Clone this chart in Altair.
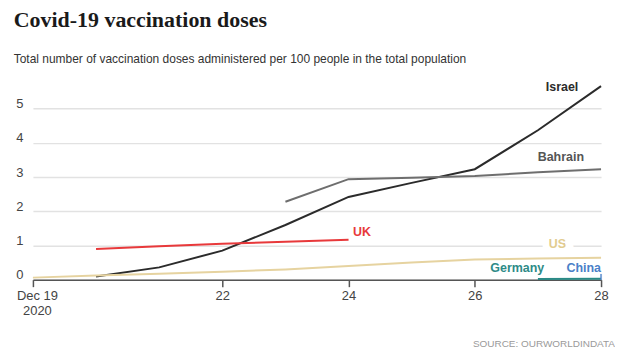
import altair as alt
import pandas as pd

days = [19, 20, 21, 22, 23, 24, 25, 26, 27, 28]
israel = [None, 0.09, 0.36, 0.85, 1.60, 2.42, 2.83, 3.23, 4.37, 5.66]
bahrain = [None, None, None, None, 2.28, 2.94, 2.98, 3.03, 3.14, 3.23]
uk = [None, 0.90, 0.98, 1.05, 1.11, 1.17, None, None, None, None]
us = [0.06, 0.12, 0.17, 0.23, 0.30, 0.40, 0.50, 0.59, 0.62, 0.64]
germany = [None, None, None, None, None, None, None, None, 0.02, 0.03]
china_day = [28]
china_val = [0.08]

series_names = ["Israel", "Bahrain", "UK", "US", "Germany", "China"]
series_colors = ["#2b2b2b", "#6e6e6e", "#e8393b", "#e6d3a0", "#2a8a86", "#4a80c9"]
label_colors = ["#2b2b2b", "#555555", "#e8393b", "#e2cc90", "#2e8b87", "#4a7fc8"]

label_text = ["Israel", "Bahrain", "UK", "US", "Germany", "China"]
label_day = [27.64, 27.73, 24.07, 27.31, 27.10, 28.0]
label_val = [5.63, 3.59, 1.38, 1.03, 0.35, 0.35]
label_align = ["right", "right", "left", "center", "right", "right"]

FONT = "Liberation Sans, Arial, sans-serif"

rows = []
for name, vals in [("Israel", israel), ("Bahrain", bahrain), ("UK", uk), ("US", us), ("Germany", germany)]:
    for d, v in zip(days, vals):
        if v is not None:
            rows.append({"day": d, "value": v, "series": name})
df = pd.DataFrame(rows)
china_df = pd.DataFrame({"day": china_day, "value": china_val, "series": ["China"]})
lab_df = pd.DataFrame({"label": label_text, "day": label_day, "value": label_val,
                       "align": label_align, "color": label_colors})

xscale = alt.Scale(domain=[19, 28], nice=False, zero=False)
yscale = alt.Scale(domain=[0, 5.8], nice=False)
cscale = alt.Scale(domain=series_names, range=series_colors)

x_axis = alt.Axis(values=[19, 22, 24, 26, 28], title=None, grid=False, format="d",
                  labelExpr="datum.value == 19 ? ['Dec 19', '2020'] : datum.label",
                  domainColor="#555555", domainWidth=1.5, tickColor="#555555", tickWidth=1.5,
                  tickSize=7, labelPadding=3, labelFont=FONT, labelFontSize=13,
                  labelColor="#444444", labelLineHeight=15, labelOverlap=False, labelFlush=False,
                  labelOffset={"condition": {"test": "datum.value == 19", "value": 4}, "value": 0})
y_axis = alt.Axis(values=[0, 1, 2, 3, 4, 5], title=None, grid=True, gridColor="#e2e2e2",
                  gridWidth=1.5, domain=False, ticks=False, labelPadding=10, format="d",
                  labelFont=FONT, labelFontSize=13, labelColor="#444444", labelOffset=-5,
                  labelOverlap=False)

X = alt.X("day:Q", scale=xscale, axis=x_axis)
Y = alt.Y("value:Q", scale=yscale, axis=y_axis)

lines = alt.Chart(df).mark_line(strokeWidth=2).encode(
    x=X, y=Y,
    color=alt.Color("series:N", scale=cscale, legend=None),
    detail="series:N",
)

china = alt.Chart(china_df).mark_tick(orient="vertical", size=6, thickness=2, color="#4a80c9").encode(
    x=X, y=Y,
)

halo = alt.Chart(lab_df).transform_filter("datum.label == 'US'").mark_text(
    font=FONT, fontSize=12.5, fontWeight="bold", stroke="white", strokeWidth=14, align="center",
    baseline="middle").encode(x=X, y=Y, text="label:N")


def lab_layer(al):
    return alt.Chart(lab_df).transform_filter(f"datum.align == '{al}'").mark_text(
        font=FONT, fontSize=12.5, fontWeight="bold", align=al, baseline="middle").encode(
        x=X, y=Y, text="label:N",
        color=alt.Color("color:N", scale=None))


source = alt.Chart(pd.DataFrame({"t": ["SOURCE: OURWORLDINDATA"]})).mark_text(
    font=FONT, fontSize=10, color="#9a9a9a", align="right", baseline="middle").encode(
    x=alt.value(584), y=alt.value(264), text="t:N")

chart = alt.layer(lines, china, halo, lab_layer("right"), lab_layer("left"), lab_layer("center"), source).properties(
    width=570, height=199,
    padding={"left": 5, "top": 0, "right": 0, "bottom": 5},
    title=alt.TitleParams(
        text="Covid-19 vaccination doses",
        subtitle="Total number of vaccination doses administered per 100 people in the total population",
        anchor="start", frame="bounds", font="Liberation Serif", fontSize=22, fontWeight="bold",
        color="#1a1a1a", subtitleFont=FONT, subtitleFontSize=12, subtitleColor="#333333",
        subtitlePadding=22, offset=15, dx=-2,
    ),
).configure(background="white").configure_view(stroke=None)

chart.save("out.html", embed_options={"renderer": "svg", "actions": False})
